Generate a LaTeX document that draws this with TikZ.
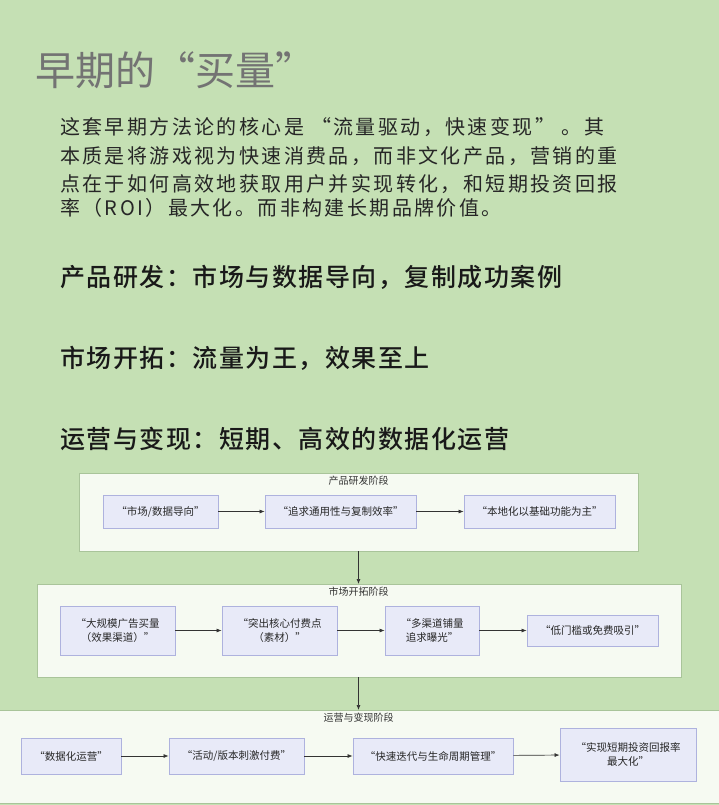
\documentclass[tikz,border=0pt]{standalone}
\usepackage{fontspec}
\setmainfont{Noto Sans CJK SC}
\newfontfamily\cjk{Noto Sans CJK SC}
\newfontfamily\cjkpara[LetterSpace=12]{Noto Sans CJK SC}
\newfontfamily\cjkhead[LetterSpace=6]{Noto Sans CJK SC Medium}
\usetikzlibrary{arrows.meta}
\definecolor{bg}{HTML}{C5E0B4}
\definecolor{grp}{HTML}{F6FAF2}
\definecolor{grpb}{HTML}{A9C49A}
\definecolor{nf}{HTML}{E8EAF8}
\definecolor{nb}{HTML}{AEB2DE}
\tikzset{
 grpbox/.style={draw=grpb,fill=grp,line width=0.8pt},
 nbox/.style={draw=nb,fill=nf,line width=0.8pt,font=\cjk\fontsize{10.5}{14}\selectfont,align=center,text=black!85},
 glabel/.style={font=\cjk\fontsize{10}{12}\selectfont,text=black!80},
 arr/.style={-{Latex[length=5pt,width=4pt]},line width=0.7pt,draw=black!80},
 para/.style={anchor=west,font=\cjkpara\fontsize{20}{24}\selectfont,text=black!85,inner sep=0},
 head/.style={anchor=west,font=\cjkhead\fontsize{25}{30}\selectfont,text=black!90,inner sep=0},
}
\begin{document}
\begin{tikzpicture}[x=1pt,y=-1pt]
\fill[bg] (0,0) rectangle (719,805);
\useasboundingbox (0,0) rectangle (719,805);
\node[anchor=west,inner sep=0,font=\cjk\fontsize{40}{44}\selectfont,text=black!55] (title) at (35,70) {早期的“买量”};
\node[para] (p1) at (60,127) {这套早期方法论的核心是 “流量驱动，快速变现” 。其};
\node[para] (p2) at (60,156) {本质是将游戏视为快速消费品，而非文化产品，营销的重};
\node[para] (p3) at (60,184) {点在于如何高效地获取用户并实现转化，和短期投资回报};
\node[para] (p4) at (60,208) {率（ROI）最大化。而非构建长期品牌价值。};
\node[head] (h1) at (60,277) {产品研发：市场与数据导向，复制成功案例};
\node[head] (h2) at (60,358) {市场开拓：流量为王，效果至上};
\node[head] (h3) at (60,439) {运营与变现：短期、高效的数据化运营};
% groups
\draw[grpbox] (79,473) rectangle (638,551);
\node[glabel] (g1) at (358.5,481) {产品研发阶段};
\draw[grpbox] (37,584) rectangle (681,677);
\node[glabel] (g2) at (358.5,592) {市场开拓阶段};
\draw[grpbox] (-1,710) rectangle (720,803);
\node[glabel] (g3) at (358.5,718) {运营与变现阶段};
\coordinate (g1b) at (358.5,551);
\coordinate (g2t) at (358.5,584);
\coordinate (g2b) at (358.5,677);
\coordinate (g3t) at (358.5,710);
\draw[arr] (g1b) -- (g2t);
\draw[arr] (g2b) -- (g3t);
% phase 1
\node[nbox,minimum width=115,minimum height=33] (a1) at (160.5,511.5) {“市场/数据导向”};
\node[nbox,minimum width=151,minimum height=33] (a2) at (340.5,511.5) {“追求通用性与复制效率”};
\node[nbox,minimum width=151,minimum height=33] (a3) at (539.5,511.5) {“本地化以基础功能为主”};
\draw[arr] (a1) -- (a2); \draw[arr] (a2) -- (a3);
% phase 2
\node[nbox,minimum width=115,minimum height=49] (b1) at (117.5,630.5) {“大规模广告买量\\（效果渠道）”};
\node[nbox,minimum width=115,minimum height=49] (b2) at (279.5,630.5) {“突出核心付费点\\（素材）”};
\node[nbox,minimum width=94,minimum height=49] (b3) at (432,630.5) {“多渠道铺量\\追求曝光”};
\node[nbox,minimum width=131,minimum height=31] (b4) at (592.5,630.5) {“低门槛或免费吸引”};
\draw[arr] (b1) -- (b2); \draw[arr] (b2) -- (b3); \draw[arr] (b3) -- (b4);
% phase 3
\node[nbox,minimum width=100,minimum height=36] (c1) at (71,756) {“数据化运营”};
\node[nbox,minimum width=135,minimum height=36] (c2) at (236.5,756) {“活动/版本刺激付费”};
\node[nbox,minimum width=160,minimum height=36] (c3) at (433,756) {“快速迭代与生命周期管理”};
\node[nbox,minimum width=136,minimum height=53] (c4) at (628,754.5) {“实现短期投资回报率\\最大化”};
\draw[arr] (c1) -- (c2); \draw[arr] (c2) -- (c3); \draw[arr] (c3) -- (c4);
\end{tikzpicture}
\end{document}
